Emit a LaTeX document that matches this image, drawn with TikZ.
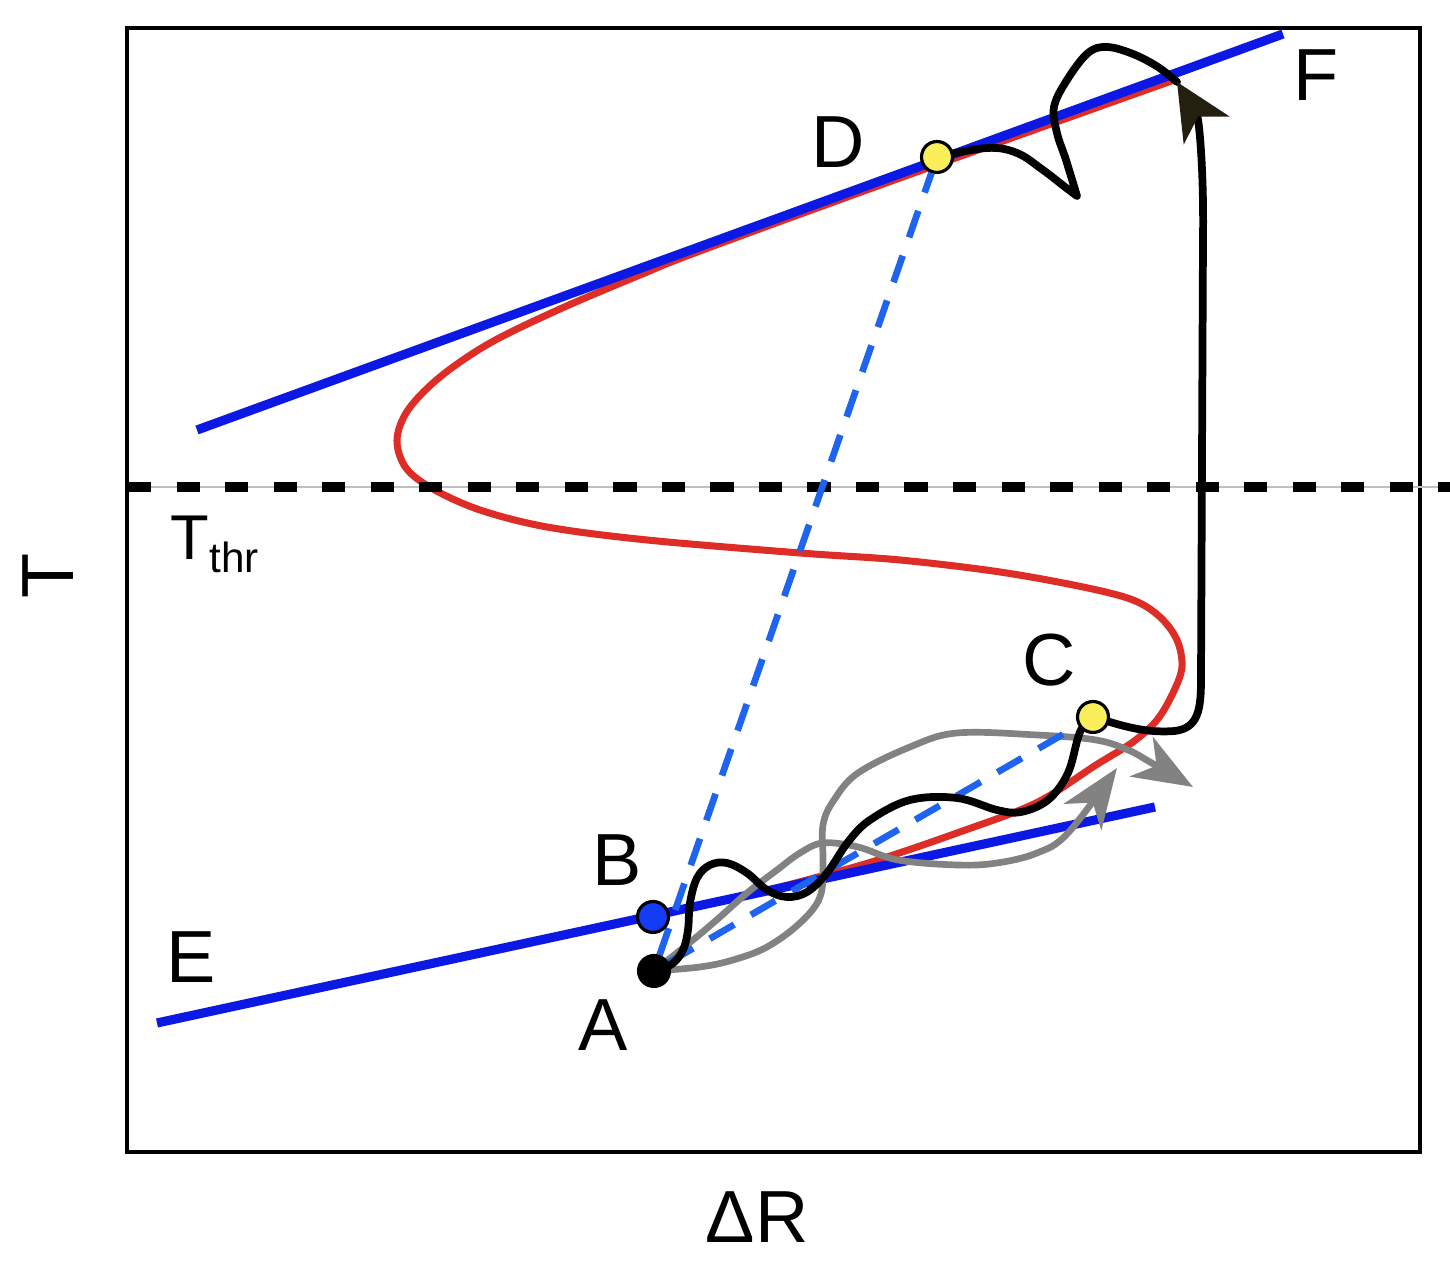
\documentclass[tikz,border=0pt]{standalone}
\usepackage{fontspec}
\setmainfont{Liberation Sans}
\usetikzlibrary{arrows.meta,backgrounds}

\definecolor{lineblue}{RGB}{12,24,228}
\definecolor{dashblue}{RGB}{30,100,240}
\definecolor{curvered}{RGB}{222,45,38}
\definecolor{driftgray}{RGB}{130,130,130}
\definecolor{dotblue}{RGB}{20,60,245}
\definecolor{dotyellow}{RGB}{250,238,90}
\definecolor{tipdark}{RGB}{35,32,15}

\tikzset{
  dot/.style={circle, draw=black, line width=0.9pt, minimum size=8.8pt, inner sep=0pt},
  lbl/.style={font=\fontsize{21}{24}\selectfont, inner sep=0pt},
  branch/.style={draw=lineblue, line width=2.6pt},
  scurve/.style={draw=curvered, line width=2pt},
  drift/.style={draw=driftgray, line width=1.9pt, line cap=round,
    -{Stealth[length=17pt, width=13pt, inset=5pt]}},
  traj/.style={draw=black, line width=2.2pt, line cap=round, line join=round},
  jump/.style={dashblue, line width=1.9pt, dash pattern=on 8pt off 5.5pt}
}

\begin{document}
\begin{tikzpicture}[x=0.01cm, y=-0.01cm]
    \useasboundingbox (0,0) rectangle (1450,1268);
    % States
    \foreach \name/\x/\y/\col in {A/654/971/black, B/653/917/dotblue, C/1093/717/dotyellow, D/937/157/dotyellow} {
        \node[dot, fill=\col] (\name) at (\x,\y) {};
    }
    % Labels
    \foreach \txt/\x/\y in {A/603/1025, B/617/860, C/1049/660, D/838/142, E/191/957, F/1316/75} {
        \node[lbl] (lab-\txt) at (\x,\y) {\txt};
    }
    \node[lbl, rotate=90] (axis-T) at (48,576) {T};
    \node[lbl] (axis-R) at (757,1217) {ΔR};
    \node[anchor=base west, inner sep=0pt, font=\fontsize{18}{20}\selectfont] (thr) at (170,560)
        {T\raisebox{-3.7pt}{\fontsize{12}{14}\selectfont thr}};
    % Branch ends
    \coordinate (low-E) at (157,1023);
    \coordinate (low-end) at (1155,807);
    \coordinate (up-start) at (197,430);
    \coordinate (up-F) at (1283,34);
    \coordinate (thr-L) at (128,487);
    \coordinate (thr-R) at (1450,487);

    \begin{scope}[on background layer]
        % Frame
        \draw[line width=0.9pt] (127,28) rectangle (1420,1152);
        % S-curve
        \draw[scurve] plot[smooth, tension=0.55] coordinates {(1177,79) (900,178) (700,251) (640,275)
            (560,309) (490,343) (440,377) (408,410) (397,440) (406,468) (433,489) (480,510) (547,527)
            (647,540) (800,553) (900,560) (1000,572) (1083,587) (1133,600) (1160,617) (1177,640)
            (1182,667) (1173,693) (1157,720) (1133,742) (1096,765) (1036,803) (957,833) (878,860)
            (818,877) (760,892) (700,905)};
        % Stable branches
        \draw[branch] (low-E) -- (low-end);
        \draw[branch] (up-start) -- (up-F);
        % Threshold
        \draw[gray!50, line width=0.5pt] (thr-L) -- (thr-R);
        \draw[line width=2.6pt, dash pattern=on 6.6pt off 7.2pt] (thr-L) -- (thr-R);
        % Noisy drifts
        \draw[drift] plot[smooth, tension=0.6] coordinates {(A) (700,967) (733,960) (767,947) (800,923)
            (820,897) (823,863) (823,825) (834,800) (858,773) (910,747) (957,733) (1037,735)
            (1096,740) (1128,750) (1150,762) (1193,787)};
        \draw[drift] plot[smooth, tension=0.6] coordinates {(A) (693,940) (720,917) (747,893) (777,870)
            (800,853) (823,843) (858,847) (898,860) (957,865) (997,863) (1037,853) (1068,833)
            (1117,768)};
        % Jumps
        \draw[jump] (A) -- (D);
        \draw[jump] (A) -- (C);
        % Trajectories
        \draw[traj] plot[smooth, tension=0.6] coordinates {(A) (672,964) (683,950) (688,930) (690,903)
            (697,878) (710,865) (727,863) (747,873) (767,890) (787,897) (807,892) (827,873)
            (848,842) (870,820) (910,800) (957,798) (997,810) (1021,812) (1048,800) (1068,773)
            (1080,732) (C)};
        \draw[traj] plot[smooth, tension=0.6] coordinates {(D) (987,148) (1017,153) (1043,170)
            (1065,187) (1077,196)}
            plot[smooth, tension=0.6] coordinates {(1077,196) (1066,160) (1057,133) (1054,107)
            (1067,80) (1088,53) (1107,47) (1133,54) (1158,67) (1177,82)};
        \draw[traj, line join=miter, -{Stealth[length=16pt, width=15pt, inset=4.5pt, color=tipdark]}]
            (C) .. controls (1130,728) and (1150,733) .. (1175,731)
            .. controls (1198,728) and (1201,710) .. (1201,680) -- (1203,240)
            .. controls (1204,170) and (1199,118) .. (1177,82);
    \end{scope}
\end{tikzpicture}
\end{document}
